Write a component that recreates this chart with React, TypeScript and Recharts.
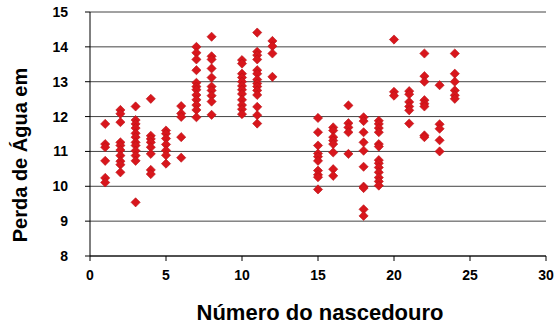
import React from 'react';
import { ScatterChart, Scatter, XAxis, YAxis, CartesianGrid, Label } from 'recharts';

// water loss readings per hatchery number
const hatcheryIds = [1, 2, 3, 4, 5, 6, 7, 8, 10, 11, 12, 15, 16, 17, 18, 19, 20, 21, 22, 23, 24];

const loss1 = [11.79, 11.21, 11.12, 10.73, 10.24, 10.11];
const loss2 = [12.19, 12.08, 11.84, 11.26, 11.17, 11.04, 10.88, 10.72, 10.62, 10.4];
const loss3 = [12.29, 11.9, 11.79, 11.67, 11.52, 11.41, 11.26, 11.17, 11.02, 10.88, 10.73, 9.54];
const loss4 = [12.51, 11.45, 11.36, 11.26, 11.12, 10.93, 10.47, 10.35];
const loss5 = [11.6, 11.51, 11.37, 11.2, 11.03, 10.89, 10.65];
const loss6 = [12.3, 12.09, 11.99, 11.41, 10.82];
const loss7 = [14.0, 13.83, 13.64, 13.33, 12.97, 12.86, 12.77, 12.62, 12.48, 12.33, 12.19, 11.98];
const loss8 = [14.29, 13.73, 13.64, 13.38, 13.12, 12.86, 12.75, 12.6, 12.43, 12.05];
const loss10 = [13.62, 13.52, 13.23, 13.12, 13.0, 12.88, 12.77, 12.65, 12.48, 12.33, 12.21, 12.07];
const loss11 = [14.41, 13.86, 13.76, 13.64, 13.33, 13.23, 13.06, 12.95, 12.86, 12.75, 12.62, 12.28, 12.04, 11.8];
const loss12 = [14.17, 14.02, 13.81, 13.14];
const loss15 = [11.96, 11.55, 11.17, 10.94, 10.85, 10.73, 10.45, 10.33, 10.26, 9.91];
const loss16 = [11.69, 11.6, 11.41, 11.31, 11.21, 10.97, 10.49, 10.3];
const loss17 = [12.32, 11.81, 11.69, 11.55, 10.93];
const loss18 = [11.98, 11.87, 11.55, 11.26, 11.02, 10.56, 9.99, 9.95, 9.34, 9.15];
const loss19 = [11.88, 11.79, 11.67, 11.55, 11.21, 11.14, 10.75, 10.66, 10.54, 10.4, 10.25, 10.14, 10.02];
const loss20 = [14.21, 12.71, 12.6];
const loss21 = [12.73, 12.64, 12.42, 12.29, 12.18, 11.8];
const loss22 = [13.81, 13.16, 13.0, 12.47, 12.37, 12.29, 11.46, 11.41];
const loss23 = [12.9, 11.78, 11.65, 11.32, 11.0];
const loss24 = [13.81, 13.23, 13.0, 12.75, 12.61, 12.51];

const lossByHatchery = [
  loss1, loss2, loss3, loss4, loss5, loss6, loss7, loss8, loss10, loss11, loss12,
  loss15, loss16, loss17, loss18, loss19, loss20, loss21, loss22, loss23, loss24,
];

const xTicks = [0, 5, 10, 15, 20, 25, 30];
const yTicks = [8, 9, 10, 11, 12, 13, 14, 15];

const points = hatcheryIds.flatMap((id, i) =>
  lossByHatchery[i].map((loss) => ({ hatchery: id, loss }))
);

const Diamond = (props: any) => {
  const { cx, cy } = props;
  const r = 4.6;
  return (
    <polygon
      points={`${cx},${cy - r} ${cx + r},${cy} ${cx},${cy + r} ${cx - r},${cy}`}
      fill="#d8161c"
      stroke="#b81218"
      strokeWidth={0.6}
    />
  );
};

const font = '"Liberation Sans", Arial, sans-serif';
const tickStyle = { fill: '#000', fontSize: 14, fontWeight: 700, fontFamily: font };

export default function App() {
  return (
    <div style={{ position: 'absolute', left: 0, top: 0, width: 554, height: 325, background: '#fff' }}>
      <ScatterChart width={554} height={325} margin={{ top: 12, right: 8, bottom: 39, left: 30 }}>
        <CartesianGrid vertical={false} stroke="#444" strokeWidth={1} />
        <XAxis
          type="number"
          dataKey="hatchery"
          domain={[0, 30]}
          ticks={xTicks}
          interval={0}
          axisLine={{ stroke: '#000' }}
          tickLine={{ stroke: '#000' }}
          tickSize={5}
          tickMargin={9}
          tick={tickStyle}
          height={30}
        >
          <Label
            content={({ viewBox }: any) => (
              <text
                x={viewBox.x + viewBox.width / 2 + 2}
                y={320}
                textAnchor="middle"
                fontSize={22}
                fontWeight={700}
                fontFamily={font}
                fill="#000"
              >
                Número do nascedouro
              </text>
            )}
          />
        </XAxis>
        <YAxis
          type="number"
          dataKey="loss"
          domain={[8, 15]}
          ticks={yTicks}
          interval={0}
          axisLine={{ stroke: '#000' }}
          tickLine={{ stroke: '#000' }}
          tickSize={5}
          tickMargin={17}
          tick={tickStyle}
          width={60}
        >
          <Label
            content={() => {
              const x = 27;
              const y = 155;
              return (
                <text
                  x={x}
                  y={y}
                  transform={`rotate(-90 ${x} ${y})`}
                  textAnchor="middle"
                  fontSize={20}
                  fontWeight={700}
                  fontFamily={font}
                  fill="#000"
                >
                  Perda de Água em
                </text>
              );
            }}
          />
        </YAxis>
        <Scatter data={points} shape={<Diamond />} isAnimationActive={false} />
      </ScatterChart>
    </div>
  );
}
